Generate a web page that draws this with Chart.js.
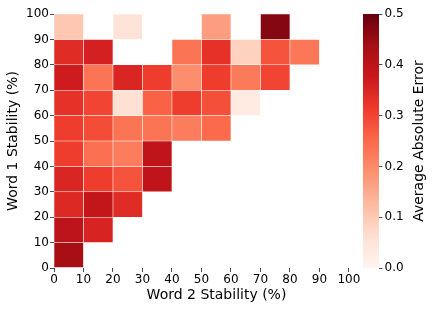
<!DOCTYPE html>
<html lang="en">
<head>
<meta charset="utf-8">
<script src="https://cdn.jsdelivr.net/npm/chart.js@4.4.1/dist/chart.umd.min.js"></script>
<style>
    html, body {margin:0; padding:0; background:#fff}
    .heatmap {width:436px; height:312px}
</style>
</head>
<body>

<div class="heatmap"><canvas id="canvas"></canvas></div>

<script type="text/javascript">
'use strict';

// lower edge of each 10% bin, same for both axes
var word2Bins = [0, 10, 20, 30, 40, 50, 60, 70, 80, 90];
var word1Bins = [0, 10, 20, 30, 40, 50, 60, 70, 80, 90];
var binWidth = 10;
var colorbarTicks = [0, 0.1, 0.2, 0.3, 0.4, 0.5];

// average absolute error, one row per Word 1 bin (bottom to top),
// one column per Word 2 bin; null = no data in that cell
var avgError = [
    [0.435],
    [0.40, 0.355],
    [0.345, 0.39, 0.34],
    [0.35, 0.31, 0.28, 0.395],
    [0.31, 0.24, 0.22, 0.395],
    [0.31, 0.29, 0.235, 0.235, 0.22, 0.25],
    [0.33, 0.30, 0.06, 0.26, 0.31, 0.285, 0.03],
    [0.37, 0.235, 0.35, 0.31, 0.195, 0.31, 0.225, 0.30],
    [0.34, 0.36, null, null, 0.235, 0.33, 0.085, 0.28, 0.23],
    [0.105, null, 0.05, null, null, 0.17, null, 0.47]
];

// matplotlib "Reds"
var redsStops = ['#fff5f0','#fee0d2','#fcbba1','#fc9272','#fb6a4a','#ef3b2c','#cb181d','#a50f15','#67000d'];
var vmax = 0.5;

function hexToRgb(h) {
    return [parseInt(h.substr(1,2),16), parseInt(h.substr(3,2),16), parseInt(h.substr(5,2),16)];
}
function reds(t) {
    t = Math.max(0, Math.min(1, t));
    var p = t * (redsStops.length - 1);
    var i = Math.min(redsStops.length - 2, Math.floor(p));
    var f = p - i;
    var a = hexToRgb(redsStops[i]), b = hexToRgb(redsStops[i+1]);
    return 'rgb(' + Math.round(a[0]+(b[0]-a[0])*f) + ',' + Math.round(a[1]+(b[1]-a[1])*f) + ',' + Math.round(a[2]+(b[2]-a[2])*f) + ')';
}

var cells = [];
avgError.forEach(function(row, r) {
    row.forEach(function(v, c) {
        if (v === null) return;
        cells.push({x: word2Bins[c] + binWidth/2, y: [word1Bins[r], word1Bins[r] + binWidth], v: v});
    });
});

// colorbar sits inside the right end of the chart area
var colorbarPlugin = {
    id: 'colorbar',
    beforeDatasetsDraw: function(chart) {
        var ctx = chart.ctx, cb = chart.scales.cb, area = chart.chartArea;
        var top = cb.getPixelForValue(vmax), bottom = cb.getPixelForValue(0);
        var g = ctx.createLinearGradient(0, bottom, 0, top);
        redsStops.forEach(function(c, i) { g.addColorStop(i / (redsStops.length - 1), c); });
        ctx.save();
        ctx.fillStyle = g;
        ctx.fillRect(area.right - 16, top, 16, bottom - top);
        ctx.translate(cb.right - 17, (top + bottom) / 2);
        ctx.rotate(-Math.PI / 2);
        ctx.font = '14px "DejaVu Sans"';
        ctx.fillStyle = '#000';
        ctx.textAlign = 'center';
        ctx.textBaseline = 'middle';
        ctx.fillText('Average Absolute Error', 0, 0);
        ctx.restore();
    }
};

function drawGraph() {
    Chart.defaults.font.family = '"DejaVu Sans", sans-serif';
    Chart.defaults.color = '#000';
    var tickGrid = {display: true, drawOnChartArea: false, drawTicks: true, tickLength: 4, color: '#222', lineWidth: 0.8, offset: false};

    new Chart(document.getElementById('canvas'), {
        type: 'bar',
        data: {
            datasets: [{
                data: cells,
                backgroundColor: function(ctx) { return ctx.raw ? reds(ctx.raw.v / vmax) : 'transparent'; },
                borderWidth: 0.6,
                borderColor: 'rgba(255,255,255,0.3)',
                borderSkipped: false,
                barPercentage: 1,
                categoryPercentage: 1,
                grouped: false
            }]
        },
        options: {
            responsive: true,
            maintainAspectRatio: false,
            animation: false,
            layout: {padding: {top: 14, left: 0, right: 0, bottom: 0}},
            plugins: {legend: {display: false}, tooltip: {enabled: false}},
            scales: {
                x: {
                    type: 'linear', min: 0, max: 110.2, offset: false,
                    afterBuildTicks: function(s) { s.ticks = s.ticks.filter(function(t) { return t.value <= 100; }); },
                    afterFit: function(s) { s.height = 44; },
                    ticks: {stepSize: 10, font: {size: 12}, padding: 1, maxRotation: 0},
                    grid: tickGrid,
                    border: {display: false},
                    title: {display: true, text: 'Word 2 Stability (%)', font: {size: 14}, padding: {top: 0, bottom: 8}}
                },
                y: {
                    type: 'linear', min: 0, max: 100,
                    afterFit: function(s) { s.width = 54; },
                    ticks: {stepSize: 10, font: {size: 12}, padding: 1},
                    grid: tickGrid,
                    border: {display: false},
                    title: {display: true, text: 'Word 1 Stability (%)', font: {size: 14}, padding: {top: 5, bottom: 0}}
                },
                cb: {
                    type: 'linear', position: 'right', min: 0, max: vmax,
                    afterBuildTicks: function(s) { s.ticks = colorbarTicks.map(function(v) { return {value: v}; }); },
                    afterFit: function(s) { s.width = 57; },
                    ticks: {font: {size: 12}, padding: 2, callback: function(v) { return v.toFixed(1); }},
                    grid: {display: true, drawOnChartArea: false, drawTicks: true, tickLength: 3.5, color: '#222', lineWidth: 0.8},
                    border: {display: false}
                }
            }
        },
        plugins: [colorbarPlugin]
    });
}
window.onload = function() {
    drawGraph();
};
</script>
</body>
</html>
